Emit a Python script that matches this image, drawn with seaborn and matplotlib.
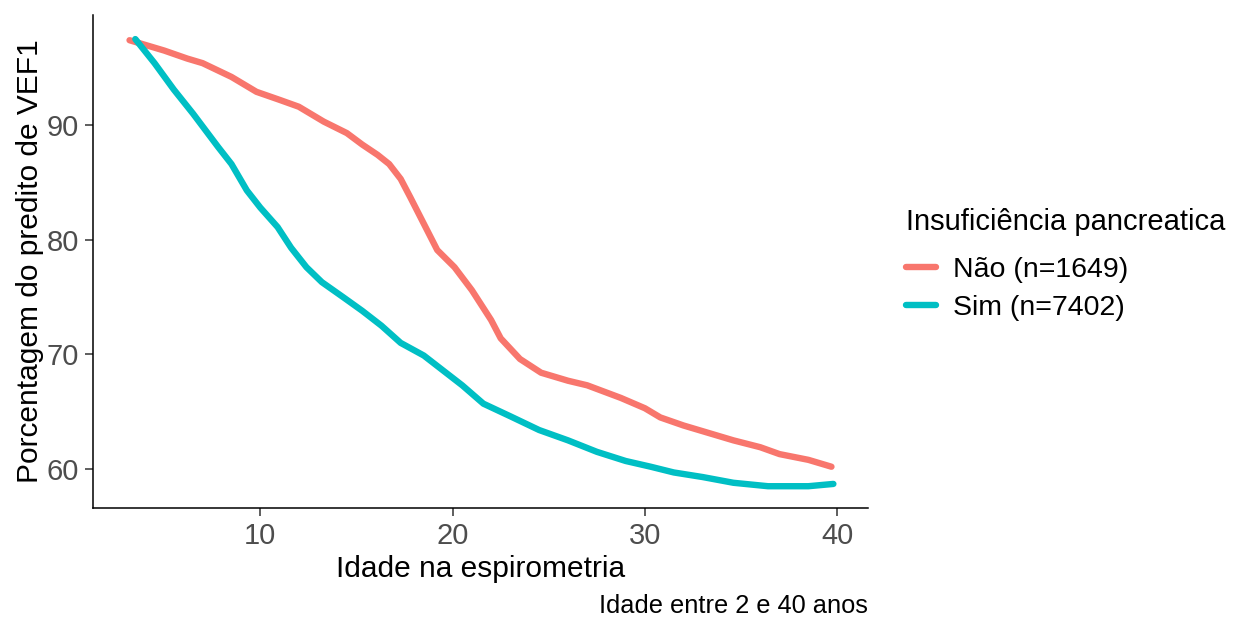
import numpy as np
import pandas as pd
import matplotlib
matplotlib.use("Agg")
import matplotlib.pyplot as plt
import seaborn as sns

# Smoothed FEV1 % predicted by age, per pancreatic insufficiency group
idade_nao = [3.2, 4.0, 5.0, 6.2, 7.0, 8.5, 9.8, 11.0, 12.0, 13.3, 14.5, 15.3, 16.1, 16.7,
             17.3, 17.8, 18.5, 19.2, 20.1, 21.0, 22.0, 22.5, 23.5, 24.6, 26.0, 27.0, 28.75,
             30.0, 30.8, 32.0, 33.0, 34.6, 36.0, 37.0, 38.5, 39.7]
vef1_nao = [97.4, 97.0, 96.5, 95.8, 95.4, 94.2, 92.9, 92.2, 91.6, 90.3, 89.3, 88.3, 87.4, 86.6,
            85.3, 83.7, 81.4, 79.1, 77.6, 75.6, 73.0, 71.4, 69.6, 68.4, 67.7, 67.3, 66.2,
            65.3, 64.5, 63.8, 63.3, 62.5, 61.9, 61.3, 60.8, 60.2]

idade_sim = [3.5, 4.5, 5.5, 6.5, 7.8, 8.5, 9.3, 10.0, 10.9, 11.6, 12.4, 13.2, 14.3, 15.3,
             16.3, 17.3, 18.5, 19.5, 20.5, 21.6, 23.0, 24.5, 26.0, 27.5, 29.0, 30.3, 31.5,
             33.0, 34.6, 36.4, 38.5, 39.8]
vef1_sim = [97.5, 95.4, 93.1, 91.0, 88.1, 86.6, 84.3, 82.8, 81.1, 79.3, 77.6, 76.3, 75.0, 73.8,
            72.5, 71.0, 69.9, 68.6, 67.3, 65.7, 64.6, 63.4, 62.5, 61.5, 60.7, 60.2, 59.7,
            59.3, 58.8, 58.5, 58.5, 58.7]

grupos = ["Não (n=1649)", "Sim (n=7402)"]
cores = ["#F8766D", "#00BFC4"]

df = pd.concat([
    pd.DataFrame({"idade": idade_nao, "vef1": vef1_nao, "grupo": grupos[0]}),
    pd.DataFrame({"idade": idade_sim, "vef1": vef1_sim, "grupo": grupos[1]}),
], ignore_index=True)

sns.set_theme(style="ticks")
plt.rcParams["font.family"] = ["Liberation Sans", "DejaVu Sans"]
plt.rcParams["text.color"] = "black"

W, H = 1235, 619
fig = plt.figure(figsize=(W / 100, H / 100), dpi=100)
ax = fig.add_axes([93 / W, (H - 508) / H, (868 - 93) / W, (508 - 15) / H])

sns.lineplot(data=df, x="idade", y="vef1", hue="grupo", hue_order=grupos,
             palette=cores, linewidth=4.6, ax=ax, legend=False, sort=True)

ax.set_xlim(1.3, 41.6)
ax.set_ylim(56.6, 99.6)
ax.set_xticks([10, 20, 30, 40])
ax.set_yticks([60, 70, 80, 90])
ax.tick_params(axis="both", labelsize=21, labelcolor="#4D4D4D", color="#333333",
               length=5.5, width=1.1, pad=4.5)
for side in ["top", "right"]:
    ax.spines[side].set_visible(False)
for side in ["left", "bottom"]:
    ax.spines[side].set_color("black")
    ax.spines[side].set_linewidth(1.1)

ax.set_xlabel("Idade na espirometria", fontsize=21.5, color="black", labelpad=4)
ax.set_ylabel("Porcentagem do predito de VEF1", fontsize=21.5, color="black", labelpad=2)

handles = [plt.Line2D([], [], color=c, linewidth=4.6) for c in cores]
leg = fig.legend(handles, grupos, title="Insuficiência pancreatica",
                 loc="upper left", bbox_to_anchor=(906 / W, 1 - 208 / H),
                 frameon=False, fontsize=20.5, title_fontsize=21,
                 borderpad=0, borderaxespad=0, labelcolor="black",
                 handlelength=1.05, handletextpad=0.6, labelspacing=0.44)
leg.get_title().set_color("black")
leg._legend_box.align = "left"
leg._legend_box.sep = 15

fig.text(868 / W, 1 - 606 / H, "Idade entre 2 e 40 anos", ha="right", va="center",
         fontsize=18.3, color="black")

fig.savefig("out.png", dpi=100)
